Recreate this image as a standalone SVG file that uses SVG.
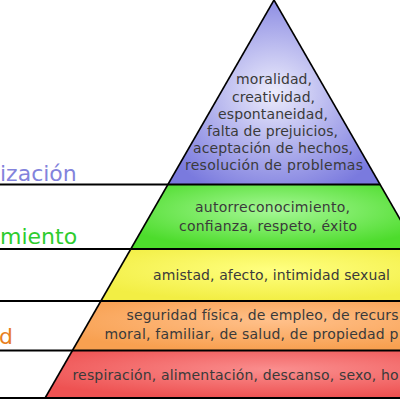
<svg xmlns="http://www.w3.org/2000/svg" width="400" height="400" viewBox="0 0 400 400">
<style>
.t{font-family:"DejaVu Sans","Liberation Sans",sans-serif;font-size:14px;fill:#3a3a3a;text-anchor:middle}
.ts{font-family:"DejaVu Sans","Liberation Sans",sans-serif;font-size:14px;fill:#3a3a3a}
.lab{font-family:"DejaVu Sans","Liberation Sans",sans-serif;font-size:22px}
.sep{stroke:#000;stroke-width:1.8;fill:none}
.edge{stroke:#000;stroke-width:1.6;fill:none}
</style>
<defs>
<radialGradient id="gb" cx="0.5" cy="0.5" r="0.6">
<stop offset="0" stop-color="#ececfc"/><stop offset="1" stop-color="#7a7ade"/></radialGradient>
<radialGradient id="gg" cx="0.5" cy="0.4" r="0.6">
<stop offset="0" stop-color="#a6f896"/><stop offset="1" stop-color="#4ddc2c"/></radialGradient>
<radialGradient id="gy" cx="0.5" cy="0.4" r="0.6">
<stop offset="0" stop-color="#ffff80"/><stop offset="1" stop-color="#f2ee44"/></radialGradient>
<radialGradient id="go" cx="0.5" cy="0.4" r="0.6">
<stop offset="0" stop-color="#ffc08a"/><stop offset="1" stop-color="#f8a050"/></radialGradient>
<radialGradient id="gr" cx="0.5" cy="0.4" r="0.6">
<stop offset="0" stop-color="#fa8e8e"/><stop offset="1" stop-color="#ee5252"/></radialGradient>
</defs>
<rect width="400" height="400" fill="#fff"/>
<g id="tier-autorrealizacion">
<polygon points="274,0 167.9,184.5 380.1,184.5" fill="url(#gb)"/>
<text class="t" x="274" y="84" textLength="76" lengthAdjust="spacing">moralidad,</text>
<text class="t" x="273.5" y="101.5" textLength="83" lengthAdjust="spacing">creatividad,</text>
<text class="t" x="273" y="118.5" textLength="110" lengthAdjust="spacing">espontaneidad,</text>
<text class="t" x="272.5" y="135.5" textLength="131" lengthAdjust="spacing">falta de prejuicios,</text>
<text class="t" x="273" y="152.5" textLength="160" lengthAdjust="spacing">aceptación de hechos,</text>
<text class="t" x="274" y="170" textLength="178" lengthAdjust="spacing">resolución de problemas</text>
<text class="lab" x="0" y="180.5" fill="#8383dc">ización</text>
</g>
<g id="tier-reconocimiento">
<polygon points="167.9,184.5 380.1,184.5 417.2,249 130.8,249" fill="url(#gg)"/>
<text class="t" x="272.5" y="211.5" textLength="155" lengthAdjust="spacing">autorreconocimiento,</text>
<text class="t" x="268" y="230.5" textLength="178" lengthAdjust="spacing">confianza, respeto, éxito</text>
<text class="lab" x="0" y="244" fill="#2ecc2e">miento</text>
</g>
<g id="tier-afiliacion">
<polygon points="130.8,249 417.2,249 447.1,301 100.9,301" fill="url(#gy)"/>
<text class="t" x="271.5" y="280" textLength="237" lengthAdjust="spacing">amistad, afecto, intimidad sexual</text>
</g>
<g id="tier-seguridad">
<polygon points="100.9,301 447.1,301 475.5,350.5 72.5,350.5" fill="url(#go)"/>
<text class="ts" x="126.5" y="320" textLength="272" lengthAdjust="spacing">seguridad física, de empleo, de recurs</text>
<text class="ts" x="104.5" y="338.5" textLength="294" lengthAdjust="spacing">moral, familiar, de salud, de propiedad p</text>
<text class="lab" x="-1" y="344" fill="#e8801e">d</text>
</g>
<g id="tier-fisiologia">
<polygon points="72.5,350.5 475.5,350.5 502.9,398 45.1,398" fill="url(#gr)"/>
<text class="ts" x="72.5" y="380" textLength="326" lengthAdjust="spacing">respiración, alimentación, descanso, sexo, ho</text>
</g>
<g id="connectors">
<line class="edge" x1="274" y1="0" x2="45.1" y2="398"/>
<line class="edge" x1="274" y1="0" x2="504" y2="400"/>
<line class="sep" x1="0" y1="184.5" x2="380.1" y2="184.5"/>
<line class="sep" x1="0" y1="249" x2="400" y2="249"/>
<line class="sep" x1="0" y1="301" x2="400" y2="301"/>
<line class="sep" x1="0" y1="350.5" x2="400" y2="350.5"/>
<line class="sep" x1="0" y1="398" x2="400" y2="398"/>
</g>
</svg>
